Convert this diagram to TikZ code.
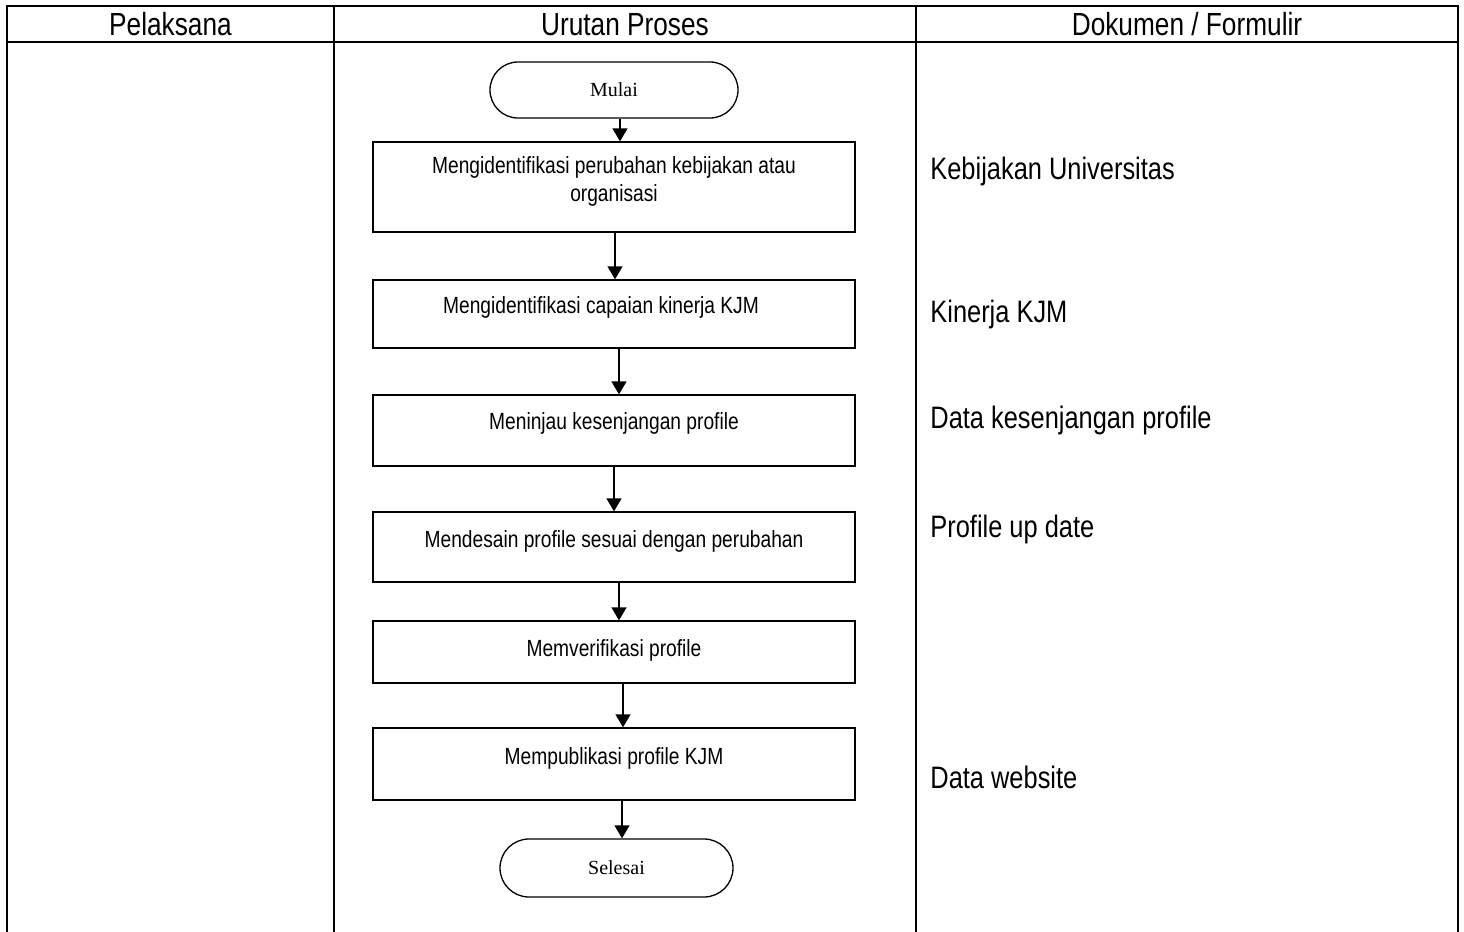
\documentclass[tikz,border=0pt]{standalone}
\usepackage{fontspec}
\setmainfont{Liberation Sans}[FakeStretch=0.82]
\newfontfamily\termfont{Liberation Serif}
\usetikzlibrary{arrows.meta}
\begin{document}
\begin{tikzpicture}[x=0.5pt,y=-0.5pt,
  gridline/.style={line width=1pt, line cap=rect},
  procbox/.style={draw, line width=0.65pt, minimum width=241pt, inner sep=0pt},
  termbox/.style={draw, line width=0.65pt, inner sep=0pt,
    font=\termfont\fontsize{10pt}{12pt}\selectfont},
  flow/.style={line width=0.65pt, -{Triangle[width=7.5pt,length=6.5pt]}},
  headtxt/.style={anchor=base, inner sep=0pt, font=\fontsize{16pt}{19pt}\selectfont},
  steptxt/.style={anchor=base, inner sep=0pt, align=center,
    font=\fontsize{11.7pt}{14pt}\selectfont},
  doctxt/.style={anchor=base west, inner sep=0pt, font=\fontsize{15.5pt}{18pt}\selectfont}]

\useasboundingbox (0,0) rectangle (1464,932);

% table frame and column rules
\draw[gridline] (7,934) -- (7,6) -- (1458,6) -- (1458,934);
\draw[gridline] (7,42) -- (1458,42);
\draw[gridline] (334,6) -- (334,934);
\draw[gridline] (916,6) -- (916,934);

% column headings
\node[headtxt] (h1) at (170.5,35) {Pelaksana};
\node[headtxt] (h2) at (625,35) {Urutan Proses};
\node[headtxt] (h3) at (1187,35) {Dokumen / Formulir};

% process flow
\node[termbox, minimum width=124pt, minimum height=28pt, rounded corners=14pt] (m) at (614,90) {Mulai};
\node[procbox, minimum height=45pt] (b1) at (614,187) {};
\node[procbox, minimum height=34pt] (b2) at (614,314) {};
\node[procbox, minimum height=35.5pt] (b3) at (614,430.5) {};
\node[procbox, minimum height=35pt] (b4) at (614,547) {};
\node[procbox, minimum height=31pt] (b5) at (614,652) {};
\node[procbox, minimum height=36pt] (b6) at (614,764) {};
\node[termbox, minimum width=116.5pt, minimum height=29pt, rounded corners=14.5pt] (s) at (616.5,868) {Selesai};

% step captions (base anchor sits on the last line)
\node[steptxt] (t1) at (614,201.5) {Mengidentifikasi perubahan kebijakan atau\\organisasi};
\node[steptxt] (t2) at (601,313) {Mengidentifikasi capaian kinerja KJM};
\node[steptxt] (t3) at (614,429) {Meninjau kesenjangan profile};
\node[steptxt] (t4) at (614,547.5) {Mendesain profile sesuai dengan perubahan};
\node[steptxt] (t5) at (614,656) {Memverifikasi profile};
\node[steptxt] (t6) at (614,764) {Mempublikasi profile KJM};

\draw[flow] ([xshift=3pt]m.south) -- ([xshift=3pt]m.south |- b1.north);
\draw[flow] ([xshift=0.5pt]b1.south) -- ([xshift=0.5pt]b1.south |- b2.north);
\draw[flow] ([xshift=2.5pt]b2.south) -- ([xshift=2.5pt]b2.south |- b3.north);
\draw[flow] (b3.south) -- (b3.south |- b4.north);
\draw[flow] ([xshift=2.5pt]b4.south) -- ([xshift=2.5pt]b4.south |- b5.north);
\draw[flow] ([xshift=4.5pt]b5.south) -- ([xshift=4.5pt]b5.south |- b6.north);
\draw[flow] ([xshift=4pt]b6.south) -- ([xshift=4pt]b6.south |- s.north);

% documents / forms column
\node[doctxt] (d1) at (930,179) {Kebijakan Universitas};
\node[doctxt] (d2) at (930,322) {Kinerja KJM};
\node[doctxt] (d3) at (930,428) {Data kesenjangan profile};
\node[doctxt] (d4) at (930,537) {Profile up date};
\node[doctxt] (d5) at (930,788) {Data website};
\end{tikzpicture}
\end{document}
